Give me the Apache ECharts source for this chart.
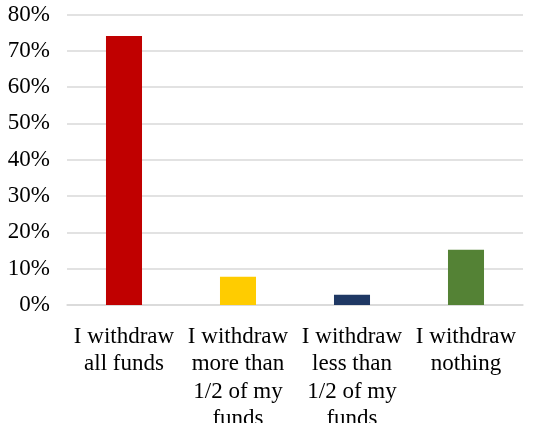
<!DOCTYPE html>
<html>
<head>
<meta charset="utf-8">
<script src="https://cdn.jsdelivr.net/npm/echarts@6/dist/echarts.min.js"></script>
<style>html,body{margin:0;padding:0;background:#fff}#c{width:548px;height:423px}</style>
</head>
<body>
<div id="c"></div>
<script>
const categories = [
  "I withdraw\nall funds",
  "I withdraw\nmore than\n1/2 of my\nfunds",
  "I withdraw\nless than\n1/2 of my\nfunds",
  "I withdraw\nnothing"
];
const values = [74.1, 7.8, 2.8, 15.2];
const barColors = ["#C00000", "#FFCC00", "#1F3864", "#548235"];
const yTicks = [0, 10, 20, 30, 40, 50, 60, 70, 80];

const chart = echarts.init(document.getElementById('c'));
chart.setOption({
  animation: false,
  grid: { left: 67, right: 25, top: 14.5, bottom: 118, containLabel: false, outerBoundsMode: 'none' },
  xAxis: {
    type: 'category',
    data: categories,
    axisTick: { show: false },
    axisLine: { lineStyle: { color: '#d9d9d9', width: 1.5 } },
    axisLabel: {
      interval: 0,
      color: '#000',
      fontFamily: 'Liberation Serif',
      fontSize: 23,
      lineHeight: 27.5,
      margin: 18
    }
  },
  yAxis: {
    type: 'value',
    min: yTicks[0],
    max: yTicks[yTicks.length - 1],
    interval: 10,
    axisLine: { show: false },
    axisTick: { show: false },
    splitLine: { lineStyle: { color: '#d9d9d9', width: 1.5 } },
    axisLabel: {
      formatter: v => v + '%',
      color: '#000',
      fontFamily: 'Liberation Serif',
      fontSize: 23,
      margin: 17
    }
  },
  series: [{
    type: 'bar',
    barWidth: '31.6%',
    data: values.map((v, i) => ({ value: v, itemStyle: { color: barColors[i] } }))
  }]
});
</script>
</body>
</html>
